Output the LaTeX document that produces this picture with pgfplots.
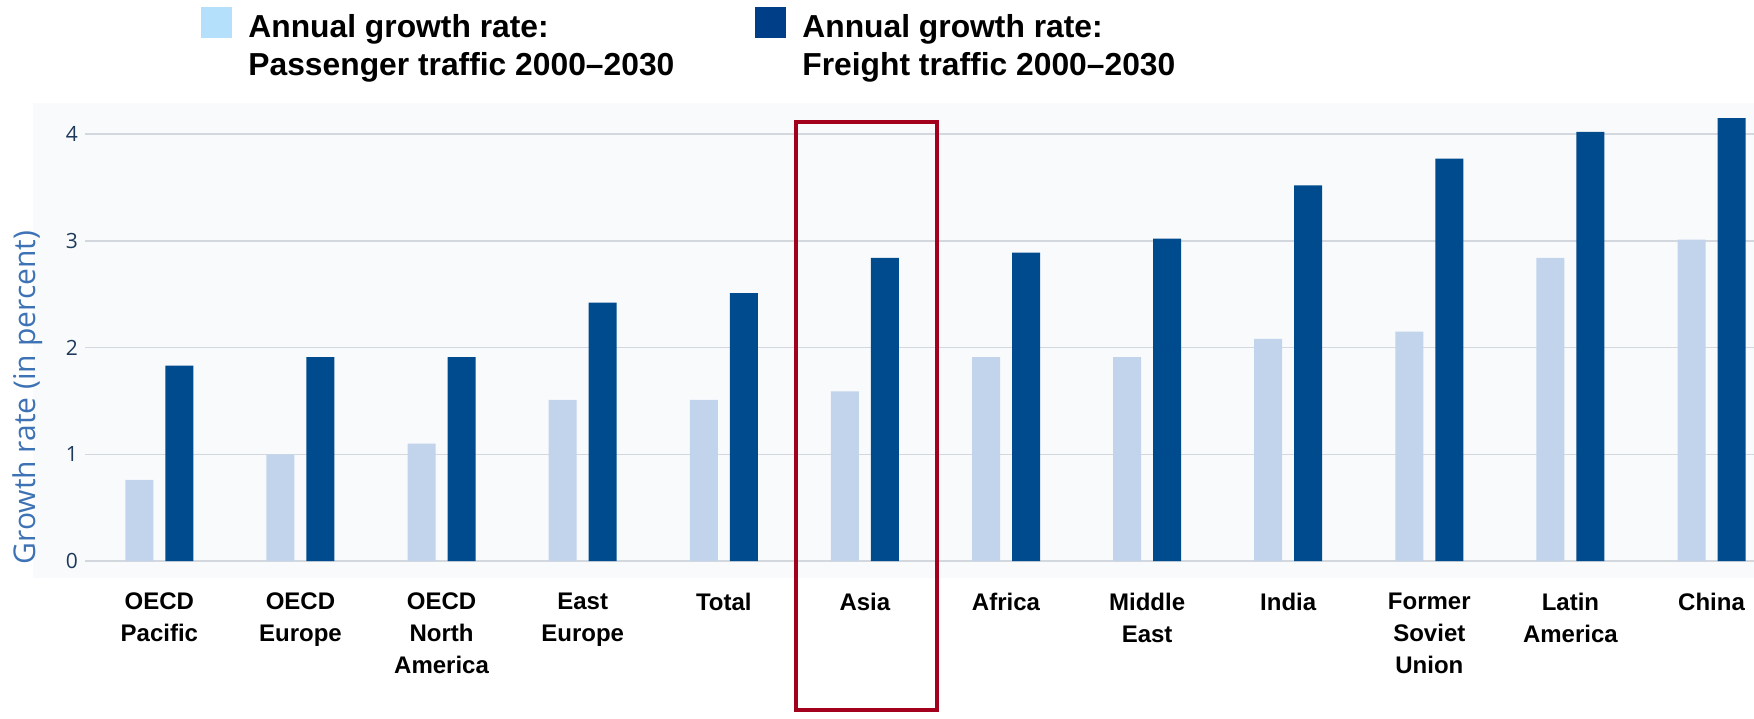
\documentclass[border=0pt]{standalone}
\usepackage{fontspec}
\setmainfont{Liberation Sans}
\newfontfamily\tickfont{Open Sans}
\usepackage{pgfplots}
\pgfplotsset{compat=1.18}
\definecolor{lightbar}{HTML}{C2D4EC}
\definecolor{darkbar}{HTML}{004B8D}
\definecolor{leglight}{HTML}{B4E0FC}
\definecolor{legdark}{HTML}{003F87}
\definecolor{gridc}{HTML}{D3D8DF}
\definecolor{ylab}{HTML}{3D72B4}
\definecolor{ytickc}{HTML}{1E3A5A}
\definecolor{boxred}{HTML}{A3001E}
\definecolor{bgc}{HTML}{F9FAFB}
\begin{document}
\begin{tikzpicture}
\path[use as bounding box] (-42.5pt,-78.5pt) rectangle (834.5pt,280.5pt);
\fill[bgc] (-26pt,-8.5pt) rectangle (834.5pt,229pt);
\begin{axis}[
  at={(0,0)}, anchor=south west,
  scale only axis, width=834.5pt, height=229.5pt,
  xmin=-0.527, xmax=11.301, ymin=0, ymax=4.3,
  axis line style={draw=none},
  ymajorgrids, grid style={gridc, line width=0.75pt},
  ytick={0,1,2,3,4},
  major tick length=0pt,
  xtick={0,...,11},
  xticklabels={{OECD\\Pacific},{OECD\\Europe},{OECD\\North\\America},{East\\Europe},{Total},{Asia},{Africa},{Middle\\East},{India},{Former\\Soviet\\Union},{Latin\\America},{China}},
  xticklabel style={align=center, font=\bfseries\fontsize{12}{16}\selectfont, text=black, yshift=-12.5pt},
  /pgf/number format/assume math mode=true,
  yticklabel style={font=\tickfont\fontsize{10.5}{12}\selectfont, text=ytickc},
  ylabel={Growth rate (in percent)},
  ylabel style={at={(axis description cs:-0.0345,0.356)}, anchor=center, font=\tickfont\fontsize{15}{17}\selectfont, text=ylab},
  ybar, bar width=14pt,
  clip=false,
]
\addplot[fill=lightbar, draw=none, bar shift=-10pt] coordinates {
(0,0.76) (1,1.00) (2,1.10) (3,1.51) (4,1.51) (5,1.59) (6,1.91) (7,1.91) (8,2.08) (9,2.15) (10,2.84) (11,3.01)};
\addplot[fill=darkbar, draw=none, bar shift=10pt] coordinates {
(0,1.83) (1,1.91) (2,1.91) (3,2.42) (4,2.51) (5,2.84) (6,2.89) (7,3.02) (8,3.52) (9,3.77) (10,4.02) (11,4.15)};
\draw[boxred, line width=2pt] (axis cs:4.512,4.112) rectangle (axis cs:5.511,-1.4);
\end{axis}
\fill[leglight] (58pt,261.6pt) rectangle (73.25pt,277.1pt);
\node[anchor=base west, font=\bfseries\fontsize{15.9}{19}\selectfont, inner sep=0] at (81.5pt,261.85pt) {Annual growth rate:};
\node[anchor=base west, font=\bfseries\fontsize{15.9}{19}\selectfont, inner sep=0] at (81.5pt,242.5pt) {Passenger traffic 2000--2030};
\fill[legdark] (335pt,261.6pt) rectangle (350.5pt,277.1pt);
\node[anchor=base west, font=\bfseries\fontsize{15.9}{19}\selectfont, inner sep=0] at (358.5pt,261.85pt) {Annual growth rate:};
\node[anchor=base west, font=\bfseries\fontsize{15.9}{19}\selectfont, inner sep=0] at (358.5pt,242.5pt) {Freight traffic 2000--2030};
\end{tikzpicture}
\end{document}
